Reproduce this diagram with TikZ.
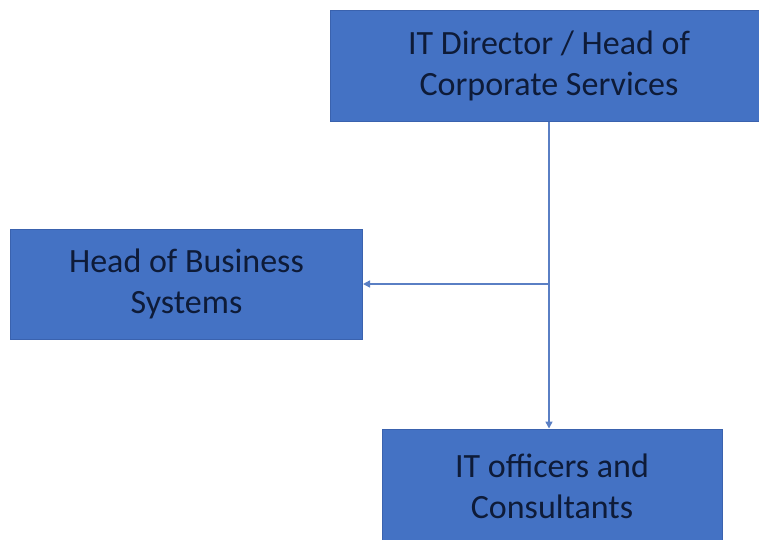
\documentclass[tikz,border=0pt]{standalone}
\usepackage{fontspec}
\setmainfont{Carlito}
\usetikzlibrary{arrows.meta}
\definecolor{boxfill}{HTML}{4472C4}
\definecolor{boxline}{HTML}{3A62AE}
\definecolor{txt}{HTML}{0E1B38}
\definecolor{conn}{HTML}{5A7FC4}
\begin{document}
\begin{tikzpicture}[x=1pt,y=-1pt,
  box/.style={draw=boxline, line width=1pt, fill=boxfill, text=txt, align=center,
    font=\fontsize{34}{41}\selectfont, inner sep=0pt, anchor=center},
  conn/.style={draw=conn, line width=1.5pt, -{Triangle[length=7pt,width=7pt]}}]
\clip (0,0) rectangle (759,539);
\fill[white] (0,0) rectangle (759,539);
\node[box, minimum width=438pt, minimum height=111pt] (top) at (549,65.5)
  {IT Director / Head of\\Corporate Services};
\node[box, minimum width=352pt, minimum height=110pt] (left) at (186.5,284)
  {Head of Business\\Systems};
\node[box, minimum width=340pt, minimum height=114pt] (bottom) at (552,486)
  {IT officers and\\Consultants};
\draw[conn] (top.south) -- (top.south |- bottom.north);
\draw[conn] (top.south) |- (left.east);
\end{tikzpicture}
\end{document}
